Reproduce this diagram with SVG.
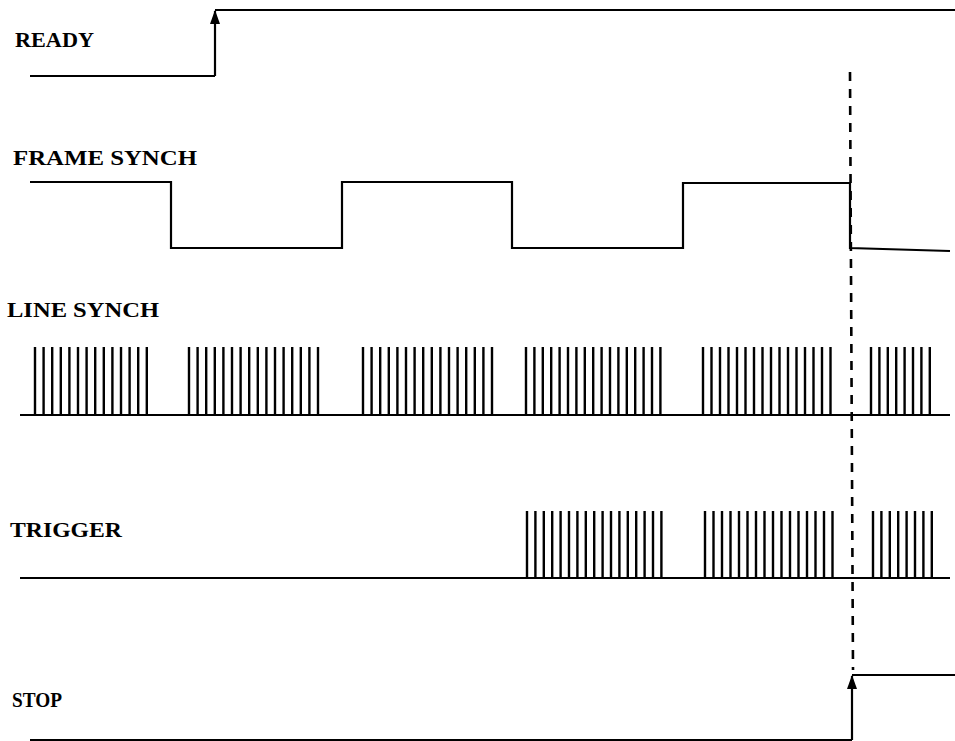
<svg xmlns="http://www.w3.org/2000/svg" width="955" height="741" viewBox="0 0 955 741">
<defs>
<style>
.sig{fill:none;stroke:#000;stroke-width:2.2;stroke-linejoin:miter}
.pul{fill:none;stroke:#000;stroke-width:2.4}
.lbl{font-family:"Liberation Serif","Times New Roman",serif;font-weight:bold;font-size:20px;fill:#000}
.dash{fill:none;stroke:#000;stroke-width:2.6;stroke-dasharray:9 8}
</style>
<marker id="arr" viewBox="0 0 14 10" refX="13" refY="5" markerWidth="14" markerHeight="10" markerUnits="userSpaceOnUse" orient="auto">
<path d="M0,0 L14,5 L0,10 Z" fill="#000"/>
</marker>
</defs>
<rect width="955" height="741" fill="#fff"/>

<g id="ready">
<text class="lbl" x="15" y="47" textLength="79" lengthAdjust="spacingAndGlyphs">READY</text>
<path class="sig" d="M30,76 H215 M955,10 H215"/>
<path class="sig" d="M215,76 V11" marker-end="url(#arr)"/>
</g>

<g id="frame-synch">
<text class="lbl" x="13" y="165" textLength="184" lengthAdjust="spacingAndGlyphs">FRAME SYNCH</text>
<path class="sig" d="M30,182 H171 V248 H342 V182 H512 V248 H683 V183 H850 V248 L950,251"/>
</g>

<g id="line-synch">
<text class="lbl" x="7" y="317" textLength="152" lengthAdjust="spacingAndGlyphs">LINE SYNCH</text>
<path class="sig" d="M20,415 H950"/>
<path class="pul" d="M35 415V347M43.6 415V347M52.2 415V347M60.8 415V347M69.4 415V347M78 415V347M86.6 415V347M95.2 415V347M103.8 415V347M112.4 415V347M121 415V347M129.6 415V347M138.2 415V347M146.8 415V347
M189 415V347M197.6 415V347M206.2 415V347M214.8 415V347M223.4 415V347M232 415V347M240.6 415V347M249.2 415V347M257.8 415V347M266.4 415V347M275 415V347M283.6 415V347M292.2 415V347M300.8 415V347M309.4 415V347M318 415V347
M363 415V347M371.6 415V347M380.2 415V347M388.8 415V347M397.4 415V347M406 415V347M414.6 415V347M423.2 415V347M431.8 415V347M440.4 415V347M449 415V347M457.6 415V347M466.2 415V347M474.8 415V347M483.4 415V347M492 415V347
M526 415V347M534.4 415V347M542.8 415V347M551.2 415V347M559.6 415V347M568 415V347M576.4 415V347M584.8 415V347M593.2 415V347M601.6 415V347M610 415V347M618.4 415V347M626.8 415V347M635.2 415V347M643.6 415V347M652 415V347M660.4 415V347
M703 415V347M711.5 415V347M720 415V347M728.5 415V347M737 415V347M745.5 415V347M754 415V347M762.5 415V347M771 415V347M779.5 415V347M788 415V347M796.5 415V347M805 415V347M813.5 415V347M822 415V347M830.5 415V347
M871 415V347M879.4 415V347M887.8 415V347M896.2 415V347M904.6 415V347M913 415V347M921.4 415V347M929.8 415V347"/>
</g>

<g id="trigger">
<text class="lbl" x="10" y="537" textLength="112" lengthAdjust="spacingAndGlyphs">TRIGGER</text>
<path class="sig" d="M20,578 H950"/>
<path class="pul" d="M527 578V511M535.4 578V511M543.8 578V511M552.2 578V511M560.6 578V511M569 578V511M577.4 578V511M585.8 578V511M594.2 578V511M602.6 578V511M611 578V511M619.4 578V511M627.8 578V511M636.2 578V511M644.6 578V511M653 578V511M661.4 578V511
M705 578V511M713.5 578V511M722 578V511M730.5 578V511M739 578V511M747.5 578V511M756 578V511M764.5 578V511M773 578V511M781.5 578V511M790 578V511M798.5 578V511M807 578V511M815.5 578V511M824 578V511M832.5 578V511
M873 578V511M881.4 578V511M889.8 578V511M898.2 578V511M906.6 578V511M915 578V511M923.4 578V511M931.8 578V511"/>
</g>

<g id="stop">
<text class="lbl" x="12" y="707" textLength="50" lengthAdjust="spacingAndGlyphs">STOP</text>
<path class="sig" d="M30,740 H852 M955,675 H852"/>
<path class="sig" d="M852,740 V676" marker-end="url(#arr)"/>
</g>

<g id="connectors">
<path class="dash" d="M850,72 L853,670"/>
</g>
</svg>
